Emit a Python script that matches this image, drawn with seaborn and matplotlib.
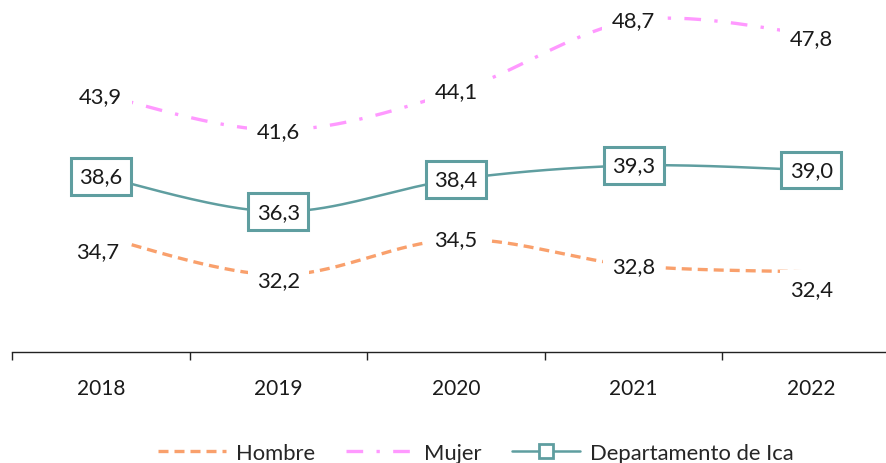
import numpy as np
import pandas as pd
import matplotlib
matplotlib.use("Agg")
import matplotlib.pyplot as plt
import seaborn as sns
from matplotlib.lines import Line2D

years = ["2018", "2019", "2020", "2021", "2022"]
hombre = [34.7, 32.2, 34.5, 32.8, 32.4]
mujer = [43.9, 41.6, 44.1, 48.7, 47.8]
ica = [38.6, 36.3, 38.4, 39.3, 39.0]

# label offsets in pixels (dx, dy) - style only
hombre_off = [(-3, -15), (0, -5), (0, 0), (0, 0), (0, -17)]
mujer_off = [(0, -2), (0, -1), (0, 0), (0, 0), (0, -4)]

C_H = "#F9A06C"
C_M = "#FF99FF"
C_I = "#5F9EA0"

sns.set_theme(style="white")
plt.rcParams["font.family"] = ["Lato", "DejaVu Sans"]

W, H = 886, 464
fig = plt.figure(figsize=(W / 100, H / 100), dpi=100)
ax = fig.add_axes([12 / W, (H - 353) / H, 888 / W, 353 / H])


def smooth(vals, n=40):
    x = np.arange(len(vals), dtype=float)
    y = np.asarray(vals, dtype=float)
    P = np.column_stack([x, y])
    Pe = np.vstack([P[0], P, P[-1]])
    out = []
    for i in range(len(P) - 1):
        p0, p1, p2, p3 = Pe[i], Pe[i + 1], Pe[i + 2], Pe[i + 3]
        c1 = p1 + (p2 - p0) / 6.0
        c2 = p2 - (p3 - p1) / 6.0
        t = np.linspace(0, 1, n)[:, None]
        if i > 0:
            t = t[1:]
        b = ((1 - t) ** 3) * p1 + 3 * ((1 - t) ** 2) * t * c1 + 3 * (1 - t) * t ** 2 * c2 + t ** 3 * p2
        out.append(b)
    return np.vstack(out)


rows = []
for name, vals in [("Hombre", hombre), ("Mujer", mujer), ("Departamento de Ica", ica)]:
    s = smooth(vals)
    for i, (xx, yy) in enumerate(s):
        rows.append({"serie": name, "x": xx, "y": yy, "order": i})
df = pd.DataFrame(rows)

styles = {
    "Hombre": dict(color=C_H, lw=2.4, dashes=(3.0, 1.8)),
    "Mujer": dict(color=C_M, lw=2.4, dashes=(5, 4, 1, 4)),
    "Departamento de Ica": dict(color=C_I, lw=1.8, dashes=()),
}
for name, st in styles.items():
    sub = df[df.serie == name]
    sns.lineplot(data=sub, x="x", y="y", ax=ax, color=st["color"], lw=st["lw"],
                 sort=False, estimator=None, legend=False)
    ln = ax.lines[-1]
    if st["dashes"]:
        ln.set_dashes(st["dashes"])
    ln.set_dash_capstyle("butt")

ax.set_xlim(-0.5, 4.5)
ax.set_ylim(27.2, 50.1)

FS = 15.8
px = 72 / 100.0


def fmt(v):
    return f"{v:.1f}".replace(".", ",")


for i, v in enumerate(hombre):
    dx, dy = hombre_off[i]
    ax.annotate(fmt(v), (i, v), xytext=(dx * px, dy * px), textcoords="offset points",
                ha="center", va="center", fontsize=FS, color="#1a1a1a", zorder=5,
                bbox=dict(boxstyle="square,pad=0.42", fc="white", ec="none"))
for i, v in enumerate(mujer):
    dx, dy = mujer_off[i]
    ax.annotate(fmt(v), (i, v), xytext=(dx * px, dy * px), textcoords="offset points",
                ha="center", va="center", fontsize=FS, color="#1a1a1a", zorder=5,
                bbox=dict(boxstyle="square,pad=0.45", fc="white", ec="none"))
for i, v in enumerate(ica):
    ax.annotate(fmt(v), (i, v), ha="center", va="center", fontsize=FS, color="#1a1a1a", zorder=6,
                bbox=dict(boxstyle="square,pad=0.38", fc="white", ec=C_I, lw=2.2))

for s in ["left", "right", "top"]:
    ax.spines[s].set_visible(False)
ax.spines["bottom"].set_color("#222222")
ax.spines["bottom"].set_linewidth(1.0)
ax.set_yticks([])
ax.set_xticks(np.arange(-0.5, 5.0, 1.0))
ax.set_xticklabels([])
ax.tick_params(axis="x", which="major", length=6, width=1.0, color="#222222", direction="out", bottom=True)
ax.set_xticks(np.arange(len(years)), minor=True)
ax.set_xticklabels(years, minor=True)
ax.tick_params(axis="x", which="minor", length=0, pad=19, labelsize=15, labelcolor="#1a1a1a")
ax.set_xlabel("")
ax.set_ylabel("")

handles = [
    Line2D([], [], color=C_H, lw=2.4, dashes=(3.0, 1.8)),
    Line2D([], [], color=C_M, lw=2.4, dashes=(5, 4, 1, 4)),
    Line2D([], [], color=C_I, lw=1.8, marker="s", markersize=10, markerfacecolor="white",
           markeredgecolor=C_I, markeredgewidth=2),
]
fig.legend(handles, ["Hombre", "Mujer", "Departamento de Ica"], loc="center",
           bbox_to_anchor=(476 / W, 10 / H), ncol=3, frameon=False, fontsize=15.8,
           handlelength=3.1, handletextpad=0.45, columnspacing=1.4)

fig.savefig("out.png", dpi=100)
